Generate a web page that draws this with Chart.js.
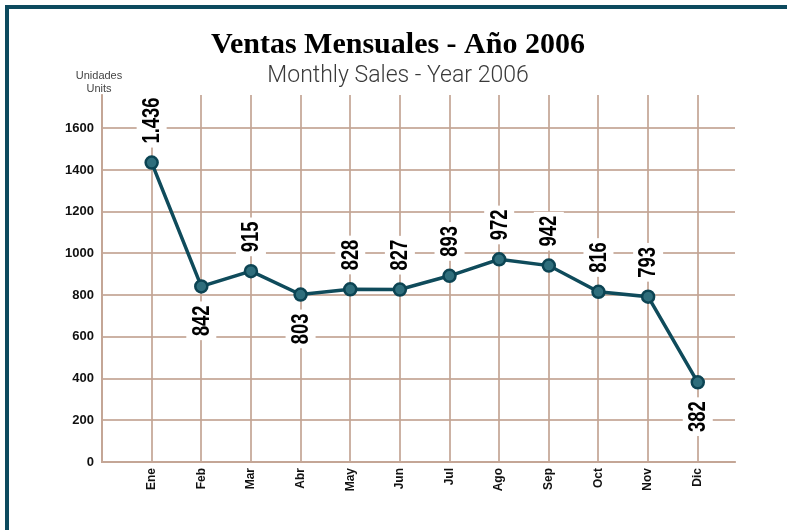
<!DOCTYPE html>
<html>
<head>
<meta charset="utf-8">
<script src="https://cdn.jsdelivr.net/npm/chart.js@4"></script>
<style>
  body { margin: 0; background: #fff; }
  #wrap { position: relative; width: 787px; height: 530px; overflow: hidden; }
  #frame { position: absolute; left: 5px; top: 5px; right: -10px; bottom: -10px; border-top: 4px solid #0d4a5e; border-left: 4px solid #0d4a5e; }
  canvas { position: absolute; left: 0; top: 0; }
</style>
</head>
<body>
<div id="wrap">
  <div id="frame"></div>
  <canvas id="salesChart" width="787" height="530"></canvas>
</div>
<script>
// months (spanish abbreviations as on the chart)
const months = ['Ene', 'Feb', 'Mar', 'Abr', 'May', 'Jun', 'Jul', 'Ago', 'Sep', 'Oct', 'Nov', 'Dic']
// units sold per month
const sales = [1436, 842, 915, 803, 828, 827, 893, 972, 942, 816, 793, 382]
// where each value label goes: 1 = above the point, -1 = below
const labelSide = [1, -1, 1, -1, 1, 1, 1, 1, 1, 1, 1, -1]
const yTicks = [0, 200, 400, 600, 800, 1000, 1200, 1400, 1600]

const gridColor = 'rgba(195,165,148,0.85)'
const teal = '#0f4b5b'

function fmt(v) {
    // thousands with a dot, like "1.436"
    return v >= 1000 ? Math.floor(v / 1000) + '.' + String(v % 1000).padStart(3, '0') : String(v)
}

const titlePlugin = {
    id: 'titles',
    afterDraw(chart) {
        const c = chart.ctx
        c.save()
        c.textAlign = 'center'
        c.textBaseline = 'alphabetic'
        c.fillStyle = '#000'
        c.font = 'bold 30px "Liberation Serif", serif'
        c.fillText('Ventas Mensuales - Año 2006', 398, 53)
        c.fillStyle = '#3a3a3a'
        c.font = '300 23px Roboto, sans-serif'
        c.fillText('Monthly Sales - Year 2006', 398, 82)
        c.fillStyle = '#444'
        c.font = '11px "Liberation Sans", Arial, sans-serif'
        c.fillText('Unidades', 99, 79)
        c.fillText('Units', 99, 92)
        c.restore()
    }
}

const squeeze = 0.8 // labels in the original use a narrow face

const valueLabels = {
    id: 'valueLabels',
    afterDatasetsDraw(chart) {
        const c = chart.ctx
        const meta = chart.getDatasetMeta(0)
        c.save()
        c.font = 'bold 23px "Liberation Sans", Arial, sans-serif'
        meta.data.forEach((pt, i) => {
            const txt = fmt(sales[i])
            const w = c.measureText(txt).width * squeeze
            const gap = 19
            const cx = pt.x
            // text is rotated, so its width runs vertically
            const cy = labelSide[i] > 0 ? pt.y - gap - w / 2 : pt.y + gap + w / 2
            c.save()
            c.translate(cx, cy)
            c.rotate(-Math.PI / 2)
            c.fillStyle = '#fff'
            c.fillRect(-w / 2 - 4, -15, w + 8, 30)
            c.scale(squeeze, 1)
            c.fillStyle = '#000'
            c.textAlign = 'center'
            c.textBaseline = 'middle'
            c.fillText(txt, 0, 1)
            c.restore()
        })
        c.restore()
    }
}

var ctx = document.getElementById('salesChart')
const config = {
    type: 'line',
    data: {
        datasets: [{
            label: 'Ventas',
            data: sales.map((v, i) => ({ x: i, y: v })),
            borderColor: teal,
            borderWidth: 3.5,
            pointBackgroundColor: '#2f6e7c',
            pointBorderColor: '#0c4453',
            pointBorderWidth: 2.5,
            pointRadius: 6,
            tension: 0
        }]
    },
    options: {
        responsive: false,
        animation: false,
        layout: { padding: { left: 56, right: 52, top: 95, bottom: 18 } },
        plugins: {
            legend: { display: false },
            title: { display: false },
            tooltip: { enabled: false }
        },
        scales: {
            x: {
                type: 'linear',
                min: -1,
                max: 11.75,
                afterBuildTicks: scale => {
                    scale.ticks = scale.ticks.filter(t => Number.isInteger(t.value))
                },
                afterFit: scale => { scale.height = 50 },
                ticks: {
                    stepSize: 1,
                    autoSkip: false,
                    minRotation: 90,
                    maxRotation: 90,
                    padding: 6,
                    color: '#111',
                    font: { family: '"Liberation Sans Narrow", Arial, sans-serif', size: 12, weight: 'bold' },
                    callback: v => months[v] || ''
                },
                grid: { color: gridColor, lineWidth: 2, drawTicks: false },
                border: { color: gridColor, width: 2 }
            },
            y: {
                min: 0,
                max: 1760,
                afterBuildTicks: scale => {
                    scale.ticks = yTicks.map(v => ({ value: v }))
                },
                afterFit: scale => { scale.width = 46 },
                ticks: {
                    padding: 8,
                    color: '#111',
                    font: { family: '"Liberation Sans Narrow", Arial, sans-serif', size: 13, weight: 'bold' },
                    callback: v => String(v)
                },
                grid: { color: gridColor, lineWidth: 2, drawTicks: false },
                border: { color: gridColor, width: 2 }
            }
        }
    },
    plugins: [titlePlugin, valueLabels]
}
var salesChart = new Chart(ctx, config)
</script>
</body>
</html>
